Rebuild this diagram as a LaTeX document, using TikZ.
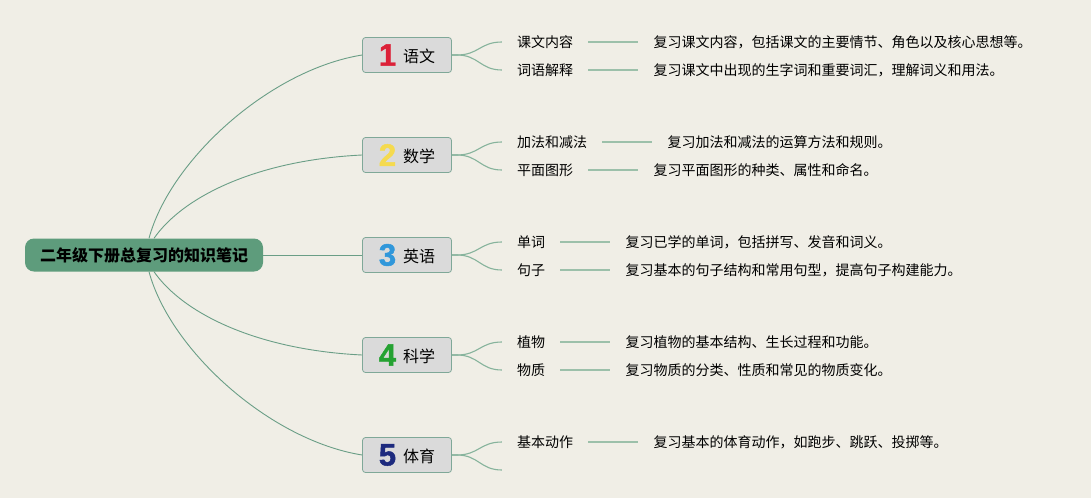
\documentclass[tikz,border=0pt]{standalone}
\usepackage{fontspec}
\setmainfont{Noto Sans CJK SC}
\newfontfamily\digitfont[FakeBold=1.5]{Liberation Sans Bold}
\usetikzlibrary{positioning}
\definecolor{paper}{HTML}{F0EEE6}
\definecolor{rootgreen}{HTML}{5E9C7C}
\definecolor{boxgray}{HTML}{DADADA}
\definecolor{boxline}{HTML}{7FA898}
\definecolor{trunkline}{HTML}{6A9E86}
\definecolor{twigline}{HTML}{86B39C}
\definecolor{linkgreen}{HTML}{9CC0AA}
\definecolor{numred}{HTML}{DC2138}
\definecolor{numyellow}{HTML}{F5DA4E}
\definecolor{numblue}{HTML}{3097DA}
\definecolor{numgreen}{HTML}{25A232}
\definecolor{numnavy}{HTML}{1D2A7E}
\newcommand{\subjnum}[2]{\raisebox{-3pt}{\digitfont\fontsize{31}{31}\selectfont\color{#1}#2}\hspace{7pt}}

\begin{document}
\begin{tikzpicture}[x=1pt,y=-1pt,
  rootbox/.style={fill=rootgreen, rounded corners=9pt, minimum width=238pt, minimum height=33pt, inner sep=0pt, font=\fontsize{16}{18}\selectfont\bfseries},
  subject/.style={draw=boxline, fill=boxgray, line width=0.8pt, rounded corners=3pt, minimum width=89pt, minimum height=35pt, inner sep=0pt, font=\fontsize{16}{18}\selectfont},
  leaf/.style={inner xsep=15pt, inner ysep=2pt, font=\fontsize{14}{16}\selectfont},
  desc/.style={leaf},
  trunk/.style={draw=trunkline, line width=0.9pt},
  twig/.style={draw=twigline, line width=1.1pt},
  linkline/.style={draw=linkgreen, line width=1.8pt}]
\useasboundingbox (0,0) rectangle (1091,498);
\fill[paper] (0,0) rectangle (1091,498);

\node (root) [rootbox] at (144,255) {二年级下册总复习的知识笔记};

\node (b1) [subject] at (407,55) {\subjnum{numred}{1}语文};
\node (b2) [subject] at (407,155) {\subjnum{numyellow}{2}数学};
\node (b3) [subject] at (407,255) {\subjnum{numblue}{3}英语};
\node (b4) [subject] at (407,355) {\subjnum{numgreen}{4}科学};
\node (b5) [subject] at (407,455) {\subjnum{numnavy}{5}体育};

\draw[trunk] ([xshift=5pt]root.north) .. controls +(21,-78) and +(-93,15) .. (b1.west);
\draw[trunk] ([xshift=10pt]root.north) .. controls +(30,-43) and +(-103,5) .. (b2.west);
\draw[trunk] (root.east) -- (b3.west);
\draw[trunk] ([xshift=10pt]root.south) .. controls +(30,43) and +(-103,-5) .. (b4.west);
\draw[trunk] ([xshift=5pt]root.south) .. controls +(21,78) and +(-93,-15) .. (b5.west);

\node (l1a) [leaf, right=50pt of b1, yshift=13pt] {课文内容};
\node (d1a) [desc, right=50pt of l1a] {复习课文内容，包括课文的主要情节、角色以及核心思想等。};
\node (l1b) [leaf, right=50pt of b1, yshift=-15pt] {词语解释};
\node (d1b) [desc, right=50pt of l1b] {复习课文中出现的生字词和重要词汇，理解词义和用法。};

\node (l2a) [leaf, right=50pt of b2, yshift=13pt] {加法和减法};
\node (d2a) [desc, right=50pt of l2a] {复习加法和减法的运算方法和规则。};
\node (l2b) [leaf, right=50pt of b2, yshift=-15pt] {平面图形};
\node (d2b) [desc, right=50pt of l2b] {复习平面图形的种类、属性和命名。};

\node (l3a) [leaf, right=50pt of b3, yshift=13pt] {单词};
\node (d3a) [desc, right=50pt of l3a] {复习已学的单词，包括拼写、发音和词义。};
\node (l3b) [leaf, right=50pt of b3, yshift=-15pt] {句子};
\node (d3b) [desc, right=50pt of l3b] {复习基本的句子结构和常用句型，提高句子构建能力。};

\node (l4a) [leaf, right=50pt of b4, yshift=13pt] {植物};
\node (d4a) [desc, right=50pt of l4a] {复习植物的基本结构、生长过程和功能。};
\node (l4b) [leaf, right=50pt of b4, yshift=-15pt] {物质};
\node (d4b) [desc, right=50pt of l4b] {复习物质的分类、性质和常见的物质变化。};

\node (l5a) [leaf, right=50pt of b5, yshift=13pt] {基本动作};
\node (d5a) [desc, right=50pt of l5a] {复习基本的体育动作，如跑步、跳跃、投掷等。};
\coordinate (l5b) at ([xshift=50pt,yshift=-15pt]b5.east);

\draw[twig] (b1.east) -- ++(5,0) .. controls +(22,0) and +(-22,0) .. (l1a.west);
\draw[twig] (b1.east) -- ++(5,0) .. controls +(22,0) and +(-22,0) .. (l1b.west);
\draw[twig] (b2.east) -- ++(5,0) .. controls +(22,0) and +(-22,0) .. (l2a.west);
\draw[twig] (b2.east) -- ++(5,0) .. controls +(22,0) and +(-22,0) .. (l2b.west);
\draw[twig] (b3.east) -- ++(5,0) .. controls +(22,0) and +(-22,0) .. (l3a.west);
\draw[twig] (b3.east) -- ++(5,0) .. controls +(22,0) and +(-22,0) .. (l3b.west);
\draw[twig] (b4.east) -- ++(5,0) .. controls +(22,0) and +(-22,0) .. (l4a.west);
\draw[twig] (b4.east) -- ++(5,0) .. controls +(22,0) and +(-22,0) .. (l4b.west);
\draw[twig] (b5.east) -- ++(5,0) .. controls +(22,0) and +(-22,0) .. (l5a.west);
\draw[twig] (b5.east) -- ++(5,0) .. controls +(22,0) and +(-22,0) .. (l5b);

\draw[linkline] (l1a) -- (d1a);
\draw[linkline] (l1b) -- (d1b);
\draw[linkline] (l2a) -- (d2a);
\draw[linkline] (l2b) -- (d2b);
\draw[linkline] (l3a) -- (d3a);
\draw[linkline] (l3b) -- (d3b);
\draw[linkline] (l4a) -- (d4a);
\draw[linkline] (l4b) -- (d4b);
\draw[linkline] (l5a) -- (d5a);
\end{tikzpicture}
\end{document}
